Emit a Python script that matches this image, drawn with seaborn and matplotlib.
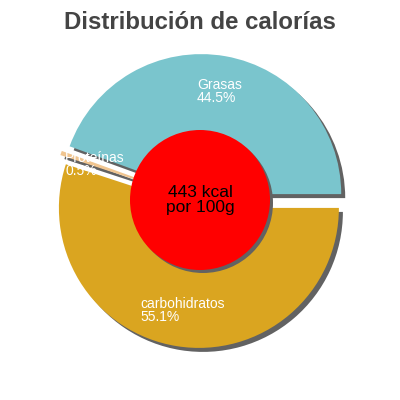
import numpy as np
import matplotlib
matplotlib.use("Agg")
import matplotlib.pyplot as plt
import seaborn as sns
from matplotlib.patches import Circle

sns.set_theme(style="white")
plt.rcParams['font.family'] = ['Liberation Sans', 'DejaVu Sans']

# data
labels = ["Grasas", "Proteínas", "carbohidratos"]
shares = [44.5, 0.5, 55.1]
colors = ["#7AC5CD", "#F0C590", "#DAA520"]
energy = "443 kcal\npor 100g"
title = "Distribución de calorías"

fig = plt.figure(figsize=(4, 4), dpi=100)
ax = fig.add_axes([0, 0, 1, 1])

cx, cy, rad = 200, 199, 140
gap = 7  # explode distance in px (pie does not scale it by radius)
explode = [gap] * len(shares)

# shadow pie first, shifted right/down
ax.pie(shares, colors=["#626262"] * 3, explode=explode, startangle=0,
       center=(cx + 4, cy - 4), radius=rad, wedgeprops=dict(linewidth=0))
ax.pie(shares, colors=colors, explode=explode, startangle=0,
       center=(cx, cy), radius=rad, wedgeprops=dict(linewidth=0))
ax.set_xlim(0, 400)
ax.set_ylim(0, 400)
ax.set_aspect("equal")
ax.axis("off")

# slice labels at 0.8 radius on mid angle
tot = sum(shares)
start = 0
for lab, v in zip(labels, shares):
    mid = np.deg2rad(start + v / tot * 360 / 2)
    r = rad * 0.8 - 1
    x = cx + r * np.cos(mid)
    y = cy + r * np.sin(mid)
    ax.text(x, y, f"{lab}\n{v}%", color="white", fontsize=10,
            ha="center", va="center", multialignment="left", linespacing=0.9)
    start += v / tot * 360

# center circle with shadow
ax.add_patch(Circle((203, 197), 70, color="#626262", lw=0))
ax.add_patch(Circle((200, 200), 70, color="#FF0000", lw=0))
ax.text(200, 200, energy, ha="center", va="center", fontsize=12.5,
        color="black", linespacing=1.0)

fig.text(0.5, 0.943, title, ha="center", va="center", fontsize=17.3,
         fontweight="bold", color="#444444")

fig.savefig("out.png", dpi=100)
